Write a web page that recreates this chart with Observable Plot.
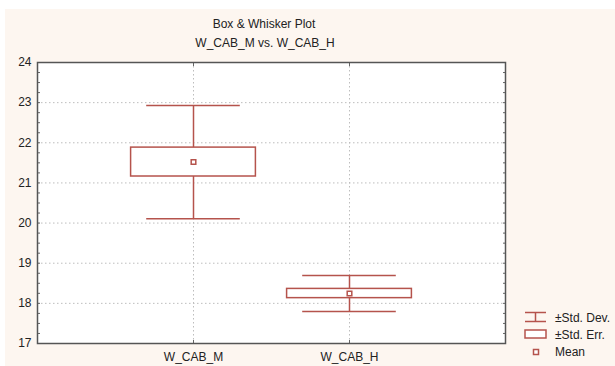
<!DOCTYPE html>
<html>
<head>
<meta charset="utf-8">
<script src="https://cdn.jsdelivr.net/npm/d3@7"></script>
<script src="https://cdn.jsdelivr.net/npm/@observablehq/plot@0.6"></script>
<style>
  html, body { margin: 0; padding: 0; background: #ffffff; }
  #wrap { position: relative; width: 615px; height: 366px; overflow: hidden; font-family: "Liberation Sans", Arial, sans-serif; }
  #bg { position: absolute; left: 5px; top: 9px; right: 0; bottom: 0; background: #fdf6f0; }
  #chart { position: absolute; left: 0; top: 0; }
  .t { position: absolute; font-size: 12px; color: #222; white-space: nowrap; transform: translate(-50%, -50%); }
  .lg { position: absolute; font-size: 12px; color: #222; white-space: nowrap; }
</style>
</head>
<body>
<div id="wrap">
  <div id="bg"></div>
  <div id="chart"></div>
</div>
<script>
const categories = ["W_CAB_M", "W_CAB_H"];
const means = [21.52, 18.245];
const stdDevs = [1.41, 0.45];
const stdErrs = [0.36, 0.115];
const yTicks = [17, 18, 19, 20, 21, 22, 23, 24];
const titleLines = ["Box & Whisker Plot", "W_CAB_M vs. W_CAB_H"];
const legendLabels = ["±Std. Dev.", "±Std. Err.", "Mean"];

const color = "#b5534c";
const data = categories.map((c, i) => ({
  cat: c, x: i + 1, mean: means[i], sd: stdDevs[i], se: stdErrs[i]
}));
const minorTicks = d3.range(17, 24.001, 0.25);
const xPos = data.map(d => d.x);
const none = () => "";

const plot = Plot.plot({
  width: 615,
  height: 366,
  marginLeft: 37,
  marginRight: 110,
  marginTop: 62,
  marginBottom: 23,
  style: { background: "transparent", fontFamily: "Liberation Sans, Arial, sans-serif", fontSize: "12px", color: "#222" },
  x: { domain: [0, 3] },
  y: { domain: [17, 24] },
  marks: [
    Plot.frame({ fill: "white" }),
    Plot.gridY(yTicks.slice(1, -1), { stroke: "#bdbdbd", strokeOpacity: 1, strokeDasharray: "1.5,2.5" }),
    Plot.gridX(xPos, { stroke: "#bdbdbd", strokeOpacity: 1, strokeDasharray: "1.5,2.5" }),
    // whisker stems
    Plot.ruleX(data, { x: "x", y1: d => d.mean - d.sd, y2: d => d.mean + d.sd, stroke: color, strokeWidth: 1.5 }),
    // whisker caps
    Plot.ruleY(data, { y: d => d.mean + d.sd, x1: d => d.x - 0.3, x2: d => d.x + 0.3, stroke: color, strokeWidth: 1.5 }),
    Plot.ruleY(data, { y: d => d.mean - d.sd, x1: d => d.x - 0.3, x2: d => d.x + 0.3, stroke: color, strokeWidth: 1.5 }),
    // std err box
    Plot.rect(data, { x1: d => d.x - 0.4, x2: d => d.x + 0.4, y1: d => d.mean - d.se, y2: d => d.mean + d.se, fill: "white", stroke: color, strokeWidth: 1.5 }),
    // mean
    Plot.dot(data, { x: "x", y: "mean", symbol: "square", r: 2.6, fill: "white", stroke: color, strokeWidth: 1.5 }),
    // axes: labels
    Plot.axisY(yTicks, { label: null, tickSize: 0, tickPadding: 6, tickFormat: d => String(d), fontSize: 12 }),
    Plot.axisX(xPos, { label: null, tickSize: 0, tickPadding: 9, tickFormat: d => categories[d - 1], fontSize: 12 }),
    // inward ticks
    Plot.axisY(minorTicks, { label: null, anchor: "left", tickSize: -3, tickFormat: none, stroke: "#666" }),
    Plot.axisY(minorTicks, { label: null, anchor: "right", tickSize: -3, tickFormat: none, stroke: "#666" }),
    Plot.axisX(xPos, { label: null, anchor: "top", tickSize: -3, tickFormat: none, stroke: "#666" }),
    Plot.axisX(xPos, { label: null, anchor: "bottom", tickSize: -3, tickFormat: none, stroke: "#666" }),
    Plot.frame({ stroke: "#555", strokeWidth: 1.5 })
  ]
});
document.getElementById("chart").appendChild(plot);

const wrap = document.getElementById("wrap");
// titles
[[titleLines[0], 264, 24], [titleLines[1], 265, 42.5]].forEach(([txt, x, y]) => {
  const d = document.createElement("div");
  d.className = "t"; d.textContent = txt;
  d.style.left = x + "px"; d.style.top = y + "px";
  wrap.appendChild(d);
});

// legend
const icons = d3.create("svg").attr("width", 615).attr("height", 366)
  .style("position", "absolute").style("left", 0).style("top", 0);
const g = icons.append("g").attr("stroke", color).attr("stroke-width", 1.5).attr("fill", "white");
g.append("line").attr("x1", 525).attr("x2", 546).attr("y1", 312.5).attr("y2", 312.5);
g.append("line").attr("x1", 525).attr("x2", 546).attr("y1", 321.5).attr("y2", 321.5);
g.append("line").attr("x1", 535.5).attr("x2", 535.5).attr("y1", 312.5).attr("y2", 321.5);
g.append("rect").attr("x", 525).attr("y", 330).attr("width", 21).attr("height", 8);
g.append("rect").attr("x", 533.5).attr("y", 349.5).attr("width", 5).attr("height", 5);
wrap.appendChild(icons.node());

[[legendLabels[0], 317.5], [legendLabels[1], 334.5], [legendLabels[2], 352]].forEach(([txt, y]) => {
  const d = document.createElement("div");
  d.className = "lg"; d.textContent = txt;
  d.style.left = "555px"; d.style.top = (y - 7) + "px";
  wrap.appendChild(d);
});
</script>
</body>
</html>
